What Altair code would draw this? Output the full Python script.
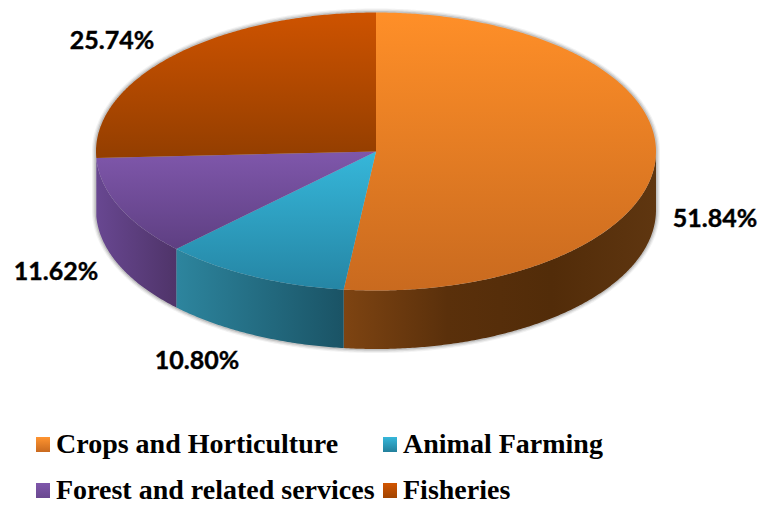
import altair as alt
import numpy as np

# Sector shares, clockwise from twelve o'clock
categories = ["Crops and Horticulture", "Animal Farming", "Forest and related services", "Fisheries"]
shares = [51.84, 10.80, 11.62, 25.74]
share_labels = ["51.84%", "10.80%", "11.62%", "25.74%"]

# Tilted disc: centre, radii and wall depth on the canvas
CX, CY, RX, RY, DEPTH = 376, 151.5, 280, 139, 58.5


def linear(stops, horizontal=False):
    last = len(stops) - 1
    return alt.Gradient(
        gradient="linear",
        x1=0, y1=0,
        x2=1 if horizontal else 0,
        y2=0 if horizontal else 1,
        stops=[alt.GradientStop(color=c, offset=i / last) for i, c in enumerate(stops)],
    )


top_fills = {
    "Crops and Horticulture": ["#FF8F28", "#C96A1F"],
    "Animal Farming": ["#36B7DA", "#2585A4"],
    "Forest and related services": ["#7F57AB", "#5E3F82"],
    "Fisheries": ["#CE5300", "#933E00"],
}
wall_fills = {
    "Crops and Horticulture": ["#7E4412", "#5A300B", "#522C09", "#5F3610"],
    "Animal Farming": ["#2D859E", "#1A5365"],
    "Forest and related services": ["#684791", "#4F3469"],
}
swatch_fills = {
    "Crops and Horticulture": ["#FF9430", "#C96A1F"],
    "Animal Farming": ["#36B7DA", "#23809C"],
    "Forest and related services": ["#7F57AB", "#6A4890"],
    "Fisheries": ["#D25500", "#A04400"],
}


def rim(start, end, rx=RX, ry=RY, drop=0.0):
    """Points along the ellipse between two clockwise angles in degrees."""
    steps = max(int(abs(end - start) * 2), 2)
    t = np.radians(np.linspace(start, end, steps))
    return [[float(rx * np.sin(a)), float(ry * np.cos(a) - drop)] for a in t]


def feature(ring):
    ring = ring + [ring[0]]
    return {"type": "Feature", "properties": {}, "geometry": {"type": "Polygon", "coordinates": [ring]}}


def shape(ring, fill, opacity=1.0):
    return alt.Chart(alt.Data(values=[feature(ring)])).mark_geoshape(
        fill=fill, stroke="transparent", strokeWidth=0, opacity=opacity
    ).project(type="identity", reflectY=True, scale=1, translate=[CX, CY])


layers = []

# Soft contact shadow under the wall
for grow, alpha in [(4, 0.08), (2.8, 0.12), (1.5, 0.2)]:
    outline = rim(90, 270, RX + grow, RY + grow, DEPTH) + rim(270, 450, RX + grow, RY + grow, 0)
    layers.append(shape(outline, "#555555", alpha))

edges = np.concatenate([[0], np.cumsum(shares)]) * 3.6

# Front wall of each sector, only where it faces the viewer
for name, a, b in zip(categories, edges[:-1], edges[1:]):
    lo, hi = max(a, 90), min(b, 270)
    if name not in wall_fills or hi <= lo:
        continue
    ring = rim(lo, hi) + rim(hi, lo, drop=DEPTH)
    layers.append(shape(ring, linear(wall_fills[name], horizontal=True)))

# Top face of each sector
for name, a, b in zip(categories, edges[:-1], edges[1:]):
    layers.append(shape([[0.0, 0.0]] + rim(a, b), linear(top_fills[name])))

# Percentage labels beside the disc
label_xy = [(715, 219), (197, 361), (56, 272), (112, 41)]
for text, (x, y) in zip(share_labels, label_xy):
    layers.append(
        alt.Chart(alt.Data(values=[{"label": text}])).mark_text(
            font="Lato", fontWeight="bold", fontSize=25, color="#000000", align="center", baseline="middle",
            stroke="#000000", strokeWidth=0.4,
        ).encode(x=alt.value(x), y=alt.value(y), text="label:N")
    )

# Two-column key with shaded swatches
key_xy = [(36, 56, 437, 453), (383, 403, 437, 453), (36, 56, 483, 499), (383, 403, 483, 499)]
for name, (sx, tx, top, base) in zip(categories, key_xy):
    row = alt.Data(values=[{"name": name}])
    layers.append(
        alt.Chart(row).mark_rect(fill=linear(swatch_fills[name])).encode(
            x=alt.value(sx), x2=alt.value(sx + 14), y=alt.value(top), y2=alt.value(top + 15)
        )
    )
    layers.append(
        alt.Chart(row).mark_text(
            font="Liberation Serif", fontWeight="bold", fontSize=28, color="#000000", align="left", baseline="alphabetic"
        ).encode(x=alt.value(tx), y=alt.value(base), text="name:N")
    )

chart = alt.layer(*layers).properties(
    width=762, height=506, padding=0, autosize=alt.AutoSizeParams(type="none"), background="#ffffff"
).configure_view(stroke=None)

chart.save("out.html", embed_options={"renderer": "svg", "actions": False})
